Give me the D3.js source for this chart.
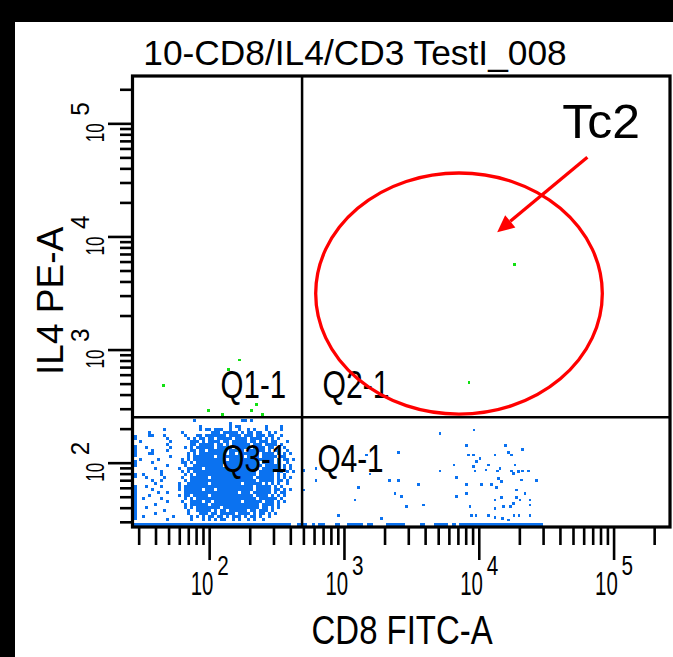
<!DOCTYPE html>
<html>
<head>
<meta charset="utf-8">
<script src="https://cdn.jsdelivr.net/npm/d3@7"></script>
<style>
  html, body { margin: 0; padding: 0; background: #fff; }
  svg { display: block; }
</style>
</head>
<body>
<svg id="chart" width="673" height="657"></svg>
<script>
// ---------------------------------------------------------------
// Flow cytometry dot plot: CD8 FITC-A vs IL4 PE-A, quadrant gate
// ---------------------------------------------------------------

const plotTitle = "10-CD8/IL4/CD3 TestI_008";
const xTitle = "CD8 FITC-A";
const yTitle = "IL4 PE-A";
const axisDomain = [27, 262144];            // log display range of both channels
const decadeTicks = [2, 3, 4, 5];            // labelled decades (10^n)
const quadrantGate = { cd8: 489, il4: 252 }; // quadrant gate cross point
const quadrantNames = ["Q1-1", "Q2-1", "Q3-1", "Q4-1"];

// Tc2 region drawn over Q2 (extent of the ellipse in channel values)
const tc2Gate = { cd8: [617, 82500], il4: [269, 36400] };
const tc2Arrow = { from: [63900, 50100], to: [13700, 10900] };
const tc2Label = { text: "Tc2", cd8: 41700, il4: 74700 };

// IL4+ events (upper quadrants), channel values
const posCd8 = [167, 139, 45.7, 98.6, 126, 224, 206, 248, 18400, 8470];
const posIl4 = [809, 670, 483, 288, 268, 328, 288, 268, 5680, 514];

// IL4- events outside the dense CD8- core, log10 channel values
const negCd8Log = [3.713, 3.965, 3.911, 4.200, 4.326, 3.403, 3.169, 3.960, 3.923, 4.121,
  4.219, 4.245, 4.009, 3.985, 3.816, 4.071, 3.960, 4.269, 2.793, 2.704,
  3.193, 3.713, 3.972, 4.054, 4.138, 4.245, 4.293, 4.326, 4.368, 4.158,
  3.836, 4.145, 4.256, 4.319, 4.430, 2.793, 3.336, 3.403, 4.170, 3.911,
  3.552, 4.022, 4.096, 4.133, 3.107, 2.704, 4.282, 4.343, 3.911, 3.836,
  3.379, 3.428, 4.170, 4.121, 4.282, 4.306, 4.380, 3.082, 4.256, 3.935,
  4.121, 4.182, 4.237, 4.380, 3.466, 3.589, 3.948, 3.980, 4.071, 4.121,
  4.178, 4.219, 4.262, 4.299, 4.380, 2.958, 3.280];
const negIl4Log = [2.260, 2.289, 2.150, 2.150, 2.118, 2.092, 2.068, 2.068, 2.068, 2.068,
  2.092, 2.068, 2.039, 2.009, 1.980, 1.980, 1.965, 1.980, 1.950, 1.929,
  1.900, 1.927, 1.927, 1.935, 1.927, 1.927, 1.920, 1.927, 1.927, 1.950,
  1.871, 1.862, 1.906, 1.847, 1.841, 1.841, 1.841, 1.841, 1.832, 1.809,
  1.809, 1.809, 1.809, 1.782, 1.782, 1.759, 1.759, 1.729, 1.729, 1.699,
  1.729, 1.699, 1.691, 1.670, 1.691, 1.670, 1.670, 1.670, 1.641, 1.611,
  1.597, 1.611, 1.611, 1.626, 1.611, 1.626, 1.531, 1.531, 1.531, 1.517,
  1.508, 1.493, 1.531, 1.531, 1.531, 1.531, 1.508];

// Dense CD8-/IL4- core at display resolution: one row per IL4 bin
// (top row = highest IL4), one character per CD8 bin, '#' = occupied.
const coreBins = {
  cd8Start: 1.435, cd8Step: 0.02226,   // log10 of left edge, bin width
  il4Top: 2.3863, il4Step: 0.02653     // log10 of top edge, bin height
};
const coreRows = [
  "....................#...............##.#.......",
  "................................#..............",
  "......................#.........#.##........#....#",
  "..........#...........#.##.###..#..#..#.#...#....#",
  ".....#..........#.........###.#####.#.##.##..#.#",
  ".....##...#......#...##.#######.####.###.###.##..#",
  "...........#......#.#.##.##.#####.####.####.#.#.#",
  "..#.........#......###.#.####.##.#####.##.###.##...#",
  "...........#.......##.#####.##.#.######.###.####.#",
  "....#.......#....#.#.######.#####.#####.####.##...#",
  "......#....#.......##.##.######.#####.######.#.##..#",
  ".....##...........#.#.#########.##.#######.####.#.#.#",
  "............#.....#.#######.#########.####.#####.##",
  "..#.....#.......#.#.###########.###############.#.##.#",
  "......#.........##.#.#####################.####.#..#",
  "...........#.....#..##########.############.#####.#.#",
  ".......#.......#..#####.##################.######.#.#",
  ".........#......#.#.#####################.#####.##.#.#",
  "...#.....#.......#.#.####################.#####.#.#",
  "....#.....#.....#..######.##############.######.#.#.#",
  "......#..#.......#.######################.#####.##.#",
  ".......#.......#..#######.##########.######.#.#.#..#",
  "....#....#.....#.#######################.#####.#.#",
  "......#........#.######.###.############.#####.##.#.#",
  "........#..#.....##################.###.######.#.##",
  ".....#.........#.##.#####.##############.####.#.#.#",
  "...#.....#.......#.#.####################.######.#",
  "...........#....#..####.##.#########.######.###.#.#",
  ".......#.........#.######.################.####.#",
  "....#............#.#.########.############.##.#.#",
  "..........#.......#..#####.#.##.######.##.###.#",
  ".......#..........#...###.##.#####.####.#.##.#.#",
  "...#.........#.....#.#.#.##.##.#.###.#.##.#..#",
  "...........#.......#...#.#.#.##..#.#..#.#..#"
];

// Events piled on the IL4 floor: CD8 ranges (log10) along the bottom edge
const il4FloorBand = [1.443, 1.470];
const il4FloorRuns = [[1.439, 2.607], [2.652, 2.724], [2.761, 2.785], [2.810, 2.859],
  [2.934, 2.971], [3.020, 3.144], [3.169, 3.218], [3.312, 3.453], [3.564, 3.601],
  [3.668, 3.774], [3.799, 3.831], [3.854, 4.477]];
// Events piled on the CD8 floor: IL4 ranges (log10) along the left edge
const cd8FloorBand = [1.437, 1.462];
const cd8FloorRuns = [[2.201, 2.245], [2.053, 2.156], [1.965, 2.024], [1.865, 1.909], [1.493, 1.803]];

// ---------------------------------------------------------------
const W = 673, H = 657;
const frame = { left: 132.5, right: 670, top: 76, bottom: 527 };
const BLUE = "#0b72f0", GREEN = "#12e012", RED = "#ff0000";
const FONT = "'Liberation Sans', Arial, Helvetica, sans-serif";

const svg = d3.select("#chart");
svg.append("rect").attr("width", W).attr("height", H).attr("fill", "#fff");

const x = d3.scaleLog().domain(axisDomain).range([frame.left, frame.right]);
const y = d3.scaleLog().domain(axisDomain).range([frame.bottom, frame.top]);
const p10 = v => Math.pow(10, v);

// text with a fixed advance width (the instrument font is condensed)
function label(parent, str, o) {
  const t = parent.append("text").text(str)
    .attr("font-family", o.family || FONT)
    .attr("font-size", o.size)
    .attr("fill", o.fill || "#000")
    .attr("text-anchor", "start");
  if (o.width) t.attr("textLength", o.width).attr("lengthAdjust", "spacingAndGlyphs");
  if (o.rotate) t.attr("transform", `translate(${o.x},${o.y}) rotate(${o.rotate})`);
  else t.attr("x", o.x).attr("y", o.y);
  return t;
}

// decade label "10" + raised exponent, as one text element;
// (bx, by) is the baseline start of "10" in the label's own frame
function decadeLabel(parent, n, o) {
  const t = parent.append("text")
    .attr("font-family", FONT).attr("fill", "#000")
    .attr("transform", `translate(${o.x},${o.y}) rotate(${o.rotate || 0})`);
  t.append("tspan").attr("x", 0).attr("y", 0)
    .attr("font-size", o.size).attr("textLength", o.width)
    .attr("lengthAdjust", "spacingAndGlyphs").text("10");
  t.append("tspan").attr("x", o.supDx).attr("y", o.supDy)
    .attr("font-size", o.supSize).attr("textLength", o.supWidth)
    .attr("lengthAdjust", "spacingAndGlyphs").text(String(n));
  return t;
}

// ---- events ----
const dots = svg.append("g").attr("shape-rendering", "crispEdges");

// dense core
coreRows.forEach((row, r) => {
  const hi = coreBins.il4Top - r * coreBins.il4Step;
  const lo = hi - coreBins.il4Step;
  row.split("").forEach((ch, c) => {
    if (ch !== "#") return;
    const a = coreBins.cd8Start + c * coreBins.cd8Step;
    const b = a + coreBins.cd8Step;
    dots.append("rect")
      .attr("x", x(p10(a))).attr("width", x(p10(b)) - x(p10(a)))
      .attr("y", y(p10(hi))).attr("height", y(p10(lo)) - y(p10(hi)))
      .attr("fill", BLUE);
  });
});

// floor pile-ups
dots.selectAll("rect.il4floor").data(il4FloorRuns).join("rect")
  .attr("class", "il4floor")
  .attr("x", d => x(p10(d[0]))).attr("width", d => x(p10(d[1])) - x(p10(d[0])))
  .attr("y", y(p10(il4FloorBand[1]))).attr("height", y(p10(il4FloorBand[0])) - y(p10(il4FloorBand[1])))
  .attr("fill", BLUE);
dots.selectAll("rect.cd8floor").data(cd8FloorRuns).join("rect")
  .attr("class", "cd8floor")
  .attr("x", x(p10(cd8FloorBand[0]))).attr("width", x(p10(cd8FloorBand[1])) - x(p10(cd8FloorBand[0])))
  .attr("y", d => y(p10(d[1]))).attr("height", d => y(p10(d[0])) - y(p10(d[1])))
  .attr("fill", BLUE);

// scattered IL4- events
const DOT = 2.7;
dots.selectAll("rect.neg").data(negCd8Log.map((v, i) => [v, negIl4Log[i]])).join("rect")
  .attr("class", "neg")
  .attr("x", d => x(p10(d[0])) - DOT / 2).attr("y", d => y(p10(d[1])) - DOT / 2)
  .attr("width", DOT).attr("height", DOT).attr("fill", BLUE);

// IL4+ events
dots.selectAll("rect.pos").data(posCd8.map((v, i) => [v, posIl4[i]])).join("rect")
  .attr("class", "pos")
  .attr("x", d => x(d[0]) - DOT / 2).attr("y", d => y(d[1]) - DOT / 2)
  .attr("width", DOT).attr("height", DOT).attr("fill", GREEN);

// ---- quadrant gate ----
const gx = x(quadrantGate.cd8), gy = y(quadrantGate.il4);
svg.append("line").attr("x1", gx).attr("x2", gx).attr("y1", frame.top).attr("y2", frame.bottom)
  .attr("stroke", "#000").attr("stroke-width", 2.5);
svg.append("line").attr("x1", frame.left).attr("x2", frame.right).attr("y1", gy).attr("y2", gy)
  .attr("stroke", "#000").attr("stroke-width", 2.5);

const qText = { size: 38.5, width: 65.5 };
label(svg, quadrantNames[0], { x: gx - 16 - qText.width, y: gy - 19, size: qText.size, width: qText.width });
label(svg, quadrantNames[1], { x: gx + 20.5, y: gy - 19, size: qText.size, width: 67 });
label(svg, quadrantNames[2], { x: gx - 15 - qText.width, y: gy + 55, size: qText.size, width: qText.width });
label(svg, quadrantNames[3], { x: gx + 15.5, y: gy + 55, size: qText.size, width: 66 });

// ---- frame ----
svg.append("rect")
  .attr("x", frame.left).attr("y", frame.top)
  .attr("width", frame.right - frame.left).attr("height", frame.bottom - frame.top)
  .attr("fill", "none").attr("stroke", "#000").attr("stroke-width", 3.2);

// ---- axes ----
const majors = decadeTicks.map(p10);
const minors = [];
for (let k = 1; k <= 5; k++) for (let m = 2; m <= 9; m++) {
  const v = m * Math.pow(10, k);
  if (v >= axisDomain[0] && v <= axisDomain[1]) minors.push(v);
}
function styleAxis(g) {
  g.select(".domain").remove();
  g.selectAll("line").attr("stroke", "#000").attr("stroke-width", 2.6);
}
svg.append("g").attr("transform", `translate(0,${frame.bottom})`)
  .call(d3.axisBottom(x).tickValues(minors).tickSize(18).tickFormat("")).call(styleAxis);
svg.append("g").attr("transform", `translate(0,${frame.bottom})`)
  .call(d3.axisBottom(x).tickValues(majors).tickSize(33).tickFormat("")).call(styleAxis);
svg.append("g").attr("transform", `translate(${frame.left},0)`)
  .call(d3.axisLeft(y).tickValues(minors).tickSize(12.5).tickFormat("")).call(styleAxis);
svg.append("g").attr("transform", `translate(${frame.left},0)`)
  .call(d3.axisLeft(y).tickValues(majors).tickSize(24.5).tickFormat("")).call(styleAxis);

// decade labels
decadeTicks.forEach(n => {
  const px = x(p10(n));
  decadeLabel(svg, n, { x: px - 18.5, y: 594.5, size: 32.8, width: 22.7,
    supDx: 26.5, supDy: -20, supSize: 28, supWidth: 11.5 });
  const py = y(p10(n));
  decadeLabel(svg, n, { x: 104, y: py + 19, rotate: -90, size: 26.5, width: 19,
    supDx: 26.5, supDy: -15.5, supSize: 25, supWidth: 13.5 });
});

// axis titles
label(svg, xTitle, { x: 311.6, y: 644, size: 41, width: 181 });
label(svg, yTitle, { x: 63.3, y: 375, size: 36.3, width: 148.3, rotate: -90 });

// plot title
label(svg, plotTitle, { x: 143.3, y: 65.3, size: 35, width: 423.4 });

// ---- Tc2 annotation ----
const ex0 = x(tc2Gate.cd8[0]), ex1 = x(tc2Gate.cd8[1]);
const ey0 = y(tc2Gate.il4[1]), ey1 = y(tc2Gate.il4[0]);
svg.append("ellipse")
  .attr("cx", (ex0 + ex1) / 2).attr("cy", (ey0 + ey1) / 2)
  .attr("rx", (ex1 - ex0) / 2).attr("ry", (ey1 - ey0) / 2)
  .attr("fill", "none").attr("stroke", RED).attr("stroke-width", 3.3);

const ax0 = x(tc2Arrow.from[0]), ay0 = y(tc2Arrow.from[1]);
const ax1 = x(tc2Arrow.to[0]), ay1 = y(tc2Arrow.to[1]);
const ang = Math.atan2(ay1 - ay0, ax1 - ax0);
const headLen = 17, headHalf = 8;
const bx = ax1 - headLen * Math.cos(ang), by = ay1 - headLen * Math.sin(ang);
svg.append("line").attr("x1", ax0).attr("y1", ay0).attr("x2", bx).attr("y2", by)
  .attr("stroke", RED).attr("stroke-width", 3.3);
svg.append("path")
  .attr("d", d3.line()([
    [ax1, ay1],
    [bx + headHalf * Math.sin(ang), by - headHalf * Math.cos(ang)],
    [bx - headHalf * Math.sin(ang), by + headHalf * Math.cos(ang)]
  ]) + "Z")
  .attr("fill", RED);

label(svg, tc2Label.text, {
  x: x(tc2Label.cd8), y: y(tc2Label.il4), size: 48, width: 77.7,
  family: "Arimo, 'Liberation Sans', Arial, sans-serif"
});

// ---- outer dark margins ----
svg.append("rect").attr("x", 0).attr("y", 0).attr("width", 15).attr("height", H).attr("fill", "#000");
svg.append("rect").attr("x", 0).attr("y", 0).attr("width", W).attr("height", 22).attr("fill", "#000");
</script>
</body>
</html>
